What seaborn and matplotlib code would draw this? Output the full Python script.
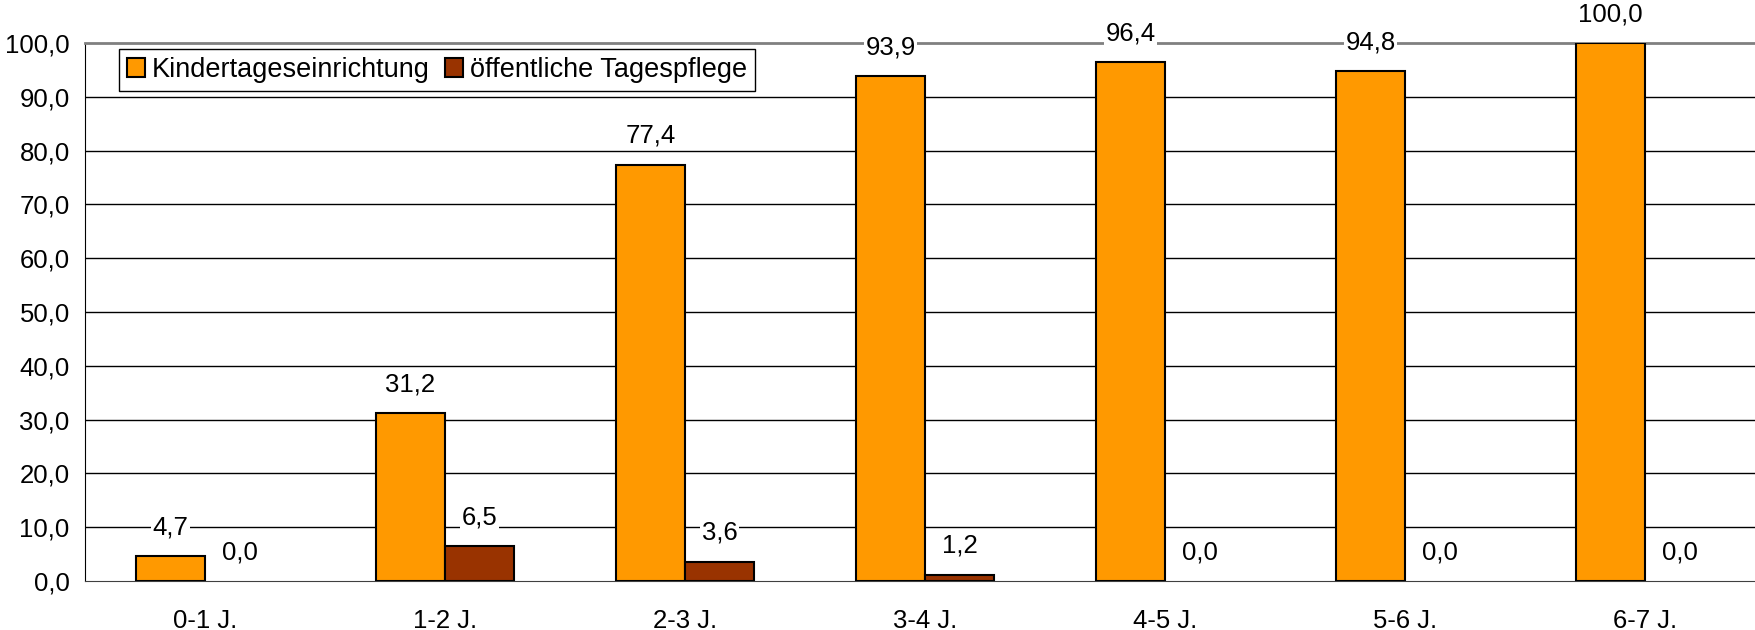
import pandas as pd
import matplotlib
matplotlib.use("Agg")
import matplotlib.pyplot as plt
from matplotlib.ticker import FuncFormatter, FixedLocator
import seaborn as sns

# Betreuungsquoten nach Alter (in %)
altersgruppen = ["0-1 J.", "1-2 J.", "2-3 J.", "3-4 J.", "4-5 J.", "5-6 J.", "6-7 J."]
kita = [4.7, 31.2, 77.4, 93.9, 96.4, 94.8, 100.0]
tagespflege = [0.0, 6.5, 3.6, 1.2, 0.0, 0.0, 0.0]
serien = ["Kindertageseinrichtung", "öffentliche Tagespflege"]
farben = ["#FF9900", "#993300"]

df = pd.DataFrame({
    "alter": altersgruppen * 2,
    "wert": kita + tagespflege,
    "art": [serien[0]] * len(kita) + [serien[1]] * len(tagespflege),
})

sns.set_style("white")
plt.rcParams["font.family"] = ["Liberation Sans", "DejaVu Sans"]
plt.rcParams["text.color"] = "black"
plt.rcParams["xtick.color"] = "black"
plt.rcParams["ytick.color"] = "black"
FS = 18.5
plt.rcParams["font.size"] = FS

def de(v, pos=None):
    return f"{v:.1f}".replace(".", ",")

fig = plt.figure(figsize=(17.55, 6.3), dpi=100)
ax = fig.add_axes([85 / 1755, 49 / 630, 1680 / 1755, 538 / 630])

sns.barplot(data=df, x="alter", y="wert", hue="art", palette=farben,
            width=0.575, gap=0, edgecolor="black", linewidth=1.5,
            saturation=1, ax=ax, zorder=3)

ax.set_xlim(-0.5, 6.5)
ax.set_ylim(0, 100)
ax.set_yticks(range(0, 101, 10))
ax.yaxis.set_major_formatter(FuncFormatter(de))
ax.set_xlabel("")
ax.set_ylabel("")
ax.tick_params(labelsize=FS, labelcolor="black")

# Gitternetz
for y in range(10, 100, 10):
    ax.axhline(y, color="black", linewidth=1, zorder=1)

ax.spines["top"].set_color("#808080")
ax.spines["top"].set_linewidth(2)
ax.spines["right"].set_visible(False)
ax.spines["left"].set_color("black")
ax.spines["bottom"].set_color("#404040")

ax.tick_params(axis="y", direction="out", length=5, width=1, color="black", pad=6)
ax.tick_params(axis="x", which="major", length=0, pad=20)
ax.xaxis.set_minor_locator(FixedLocator([i + 0.5 for i in range(-1, 7)]))
ax.tick_params(axis="x", which="minor", direction="out", length=6.5, width=1, color="#404040")

for cont in ax.containers:
    for b in cont:
        if b.get_height() == 0:
            b.set_linewidth(0)
    ax.bar_label(cont, labels=[de(b.get_height()) for b in cont], padding=12,
                 fontsize=FS, color="black",
                 bbox=dict(facecolor="white", edgecolor="none", pad=1),
                 zorder=4, clip_on=False)

LFS = 19.5
leg = ax.legend(loc="upper left", bbox_to_anchor=(0.0202, 0.989), ncol=2,
                frameon=True, fancybox=False, edgecolor="black", framealpha=1,
                fontsize=LFS, handlelength=0.66, handleheight=0.66, handletextpad=0.26,
                columnspacing=0.55, borderpad=0.3, borderaxespad=0)
leg.get_frame().set_linewidth(1)
for h in leg.legend_handles:
    h.set_linewidth(1.5)
for t in leg.get_texts():
    t.set_color("black")

fig.savefig("out.png", dpi=100)
